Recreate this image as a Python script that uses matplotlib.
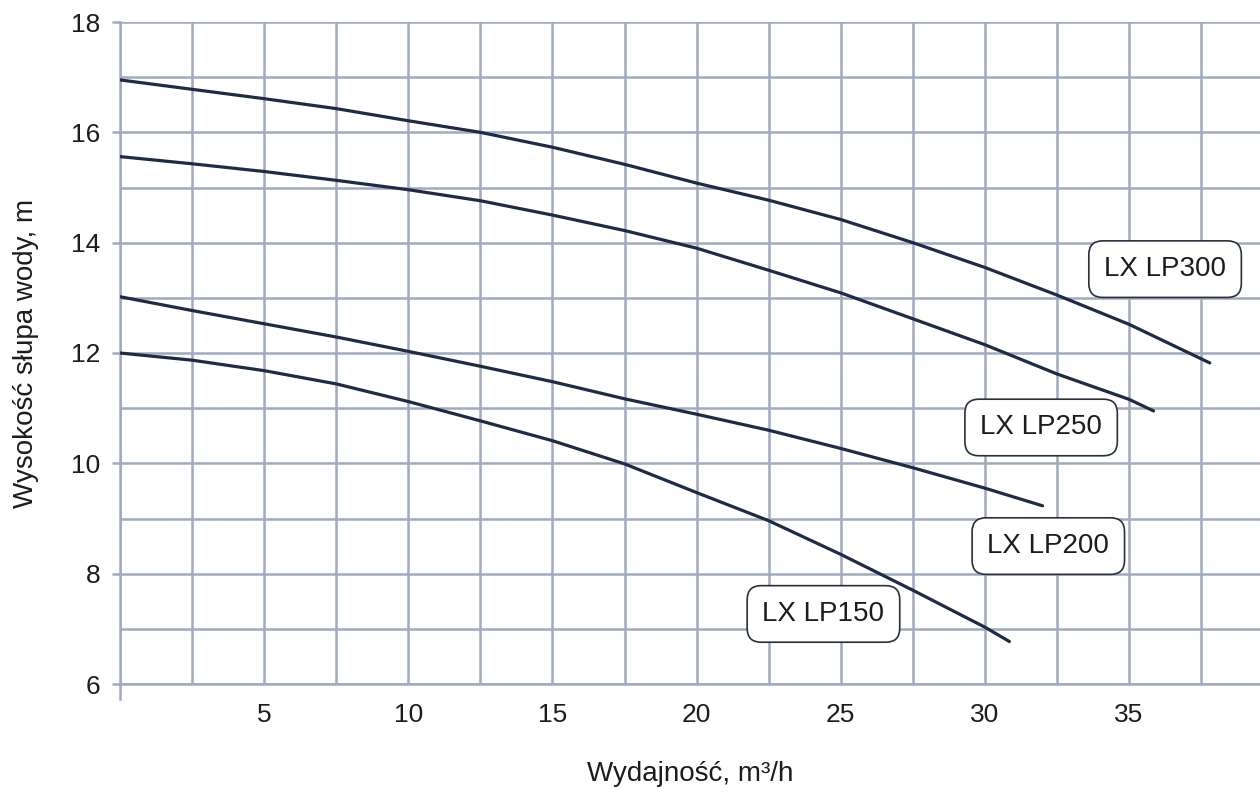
import matplotlib
matplotlib.use("Agg")
import matplotlib.pyplot as plt
from matplotlib.ticker import MultipleLocator

plt.rcParams['font.family'] = ['Liberation Sans', 'DejaVu Sans']

# pump curves (flow m3/h -> head m)
lp300_q = [0, 2.5, 5, 7.5, 10, 12.5, 15, 17.5, 20, 22.5, 25, 27.5, 30, 32.5, 35, 37.8]
lp300_h = [16.95, 16.78, 16.61, 16.43, 16.21, 16.0, 15.73, 15.42, 15.08, 14.77, 14.42, 14.0, 13.55, 13.05, 12.52, 11.82]

lp250_q = [0, 2.5, 5, 7.5, 10, 12.5, 15, 17.5, 20, 22.5, 25, 27.5, 30, 32.5, 35, 35.85]
lp250_h = [15.56, 15.43, 15.29, 15.13, 14.96, 14.76, 14.5, 14.22, 13.9, 13.5, 13.09, 12.62, 12.15, 11.62, 11.16, 10.95]

lp200_q = [0, 2.5, 5, 7.5, 10, 12.5, 15, 17.5, 20, 22.5, 25, 27.5, 30, 32.0]
lp200_h = [13.02, 12.77, 12.53, 12.29, 12.03, 11.76, 11.48, 11.17, 10.89, 10.6, 10.27, 9.92, 9.55, 9.23]

lp150_q = [0, 2.5, 5, 7.5, 10, 12.5, 15, 17.5, 20, 22.5, 25, 27.5, 30, 30.85]
lp150_h = [12.0, 11.87, 11.68, 11.44, 11.12, 10.77, 10.41, 9.99, 9.47, 8.96, 8.35, 7.7, 7.03, 6.77]

names = ['LX LP300', 'LX LP250', 'LX LP200', 'LX LP150']
x_ticks = [5, 10, 15, 20, 25, 30, 35]
y_ticks = [6, 8, 10, 12, 14, 16, 18]

# where the name boxes sit
label_pos = [(36.25, 13.52), (31.95, 10.65), (32.2, 8.5), (24.4, 7.27)]

grid_c = '#a0a9be'
line_c = '#1d2b44'
text_c = '#1c1c1c'

fig = plt.figure(figsize=(12.6, 7.98), dpi=100)
ax = fig.add_axes([120 / 1260, 1 - 684 / 798, 1 - 120 / 1260, (684 - 22) / 798])

series = [(lp300_q, lp300_h), (lp250_q, lp250_h), (lp200_q, lp200_h), (lp150_q, lp150_h)]
for (q, h), name, pos in zip(series, names, label_pos):
    ax.plot(q, h, color=line_c, lw=2.3, solid_capstyle='round', zorder=3)
    ax.text(pos[0], pos[1], name, ha='center', va='center', fontsize=20, color=text_c, zorder=4,
            bbox=dict(boxstyle='round,pad=0.55,rounding_size=0.5', fc='white', ec='#2a2f3a', lw=1.2))

ax.set_xlim(0, (1260 - 120) / 28.83)
ax.set_ylim(6, 18)
ax.set_xticks(x_ticks)
ax.set_yticks(y_ticks)
ax.xaxis.set_minor_locator(MultipleLocator(2.5))
ax.yaxis.set_minor_locator(MultipleLocator(1))
ax.grid(which='both', color=grid_c, lw=1.8)
ax.set_axisbelow(True)

for s in ['top', 'right']:
    ax.spines[s].set_visible(False)
for s in ['left', 'bottom']:
    ax.spines[s].set_color(grid_c)
    ax.spines[s].set_linewidth(1.8)
ax.spines['left'].set_bounds(5.72, 18)

ax.tick_params(axis='x', which='both', length=0, pad=14, labelsize=19, labelcolor=text_c)
ax.tick_params(axis='y', which='major', length=6, width=1.8, color=grid_c, pad=8, labelsize=19, labelcolor=text_c)
ax.tick_params(axis='y', which='minor', length=0)

ax.set_xlabel('Wydajność, m³/h', fontsize=20, color=text_c, labelpad=24)
ax.set_ylabel('Wysokość słupa wody, m', fontsize=20, color=text_c, labelpad=23)

fig.savefig('out.png', dpi=100)
